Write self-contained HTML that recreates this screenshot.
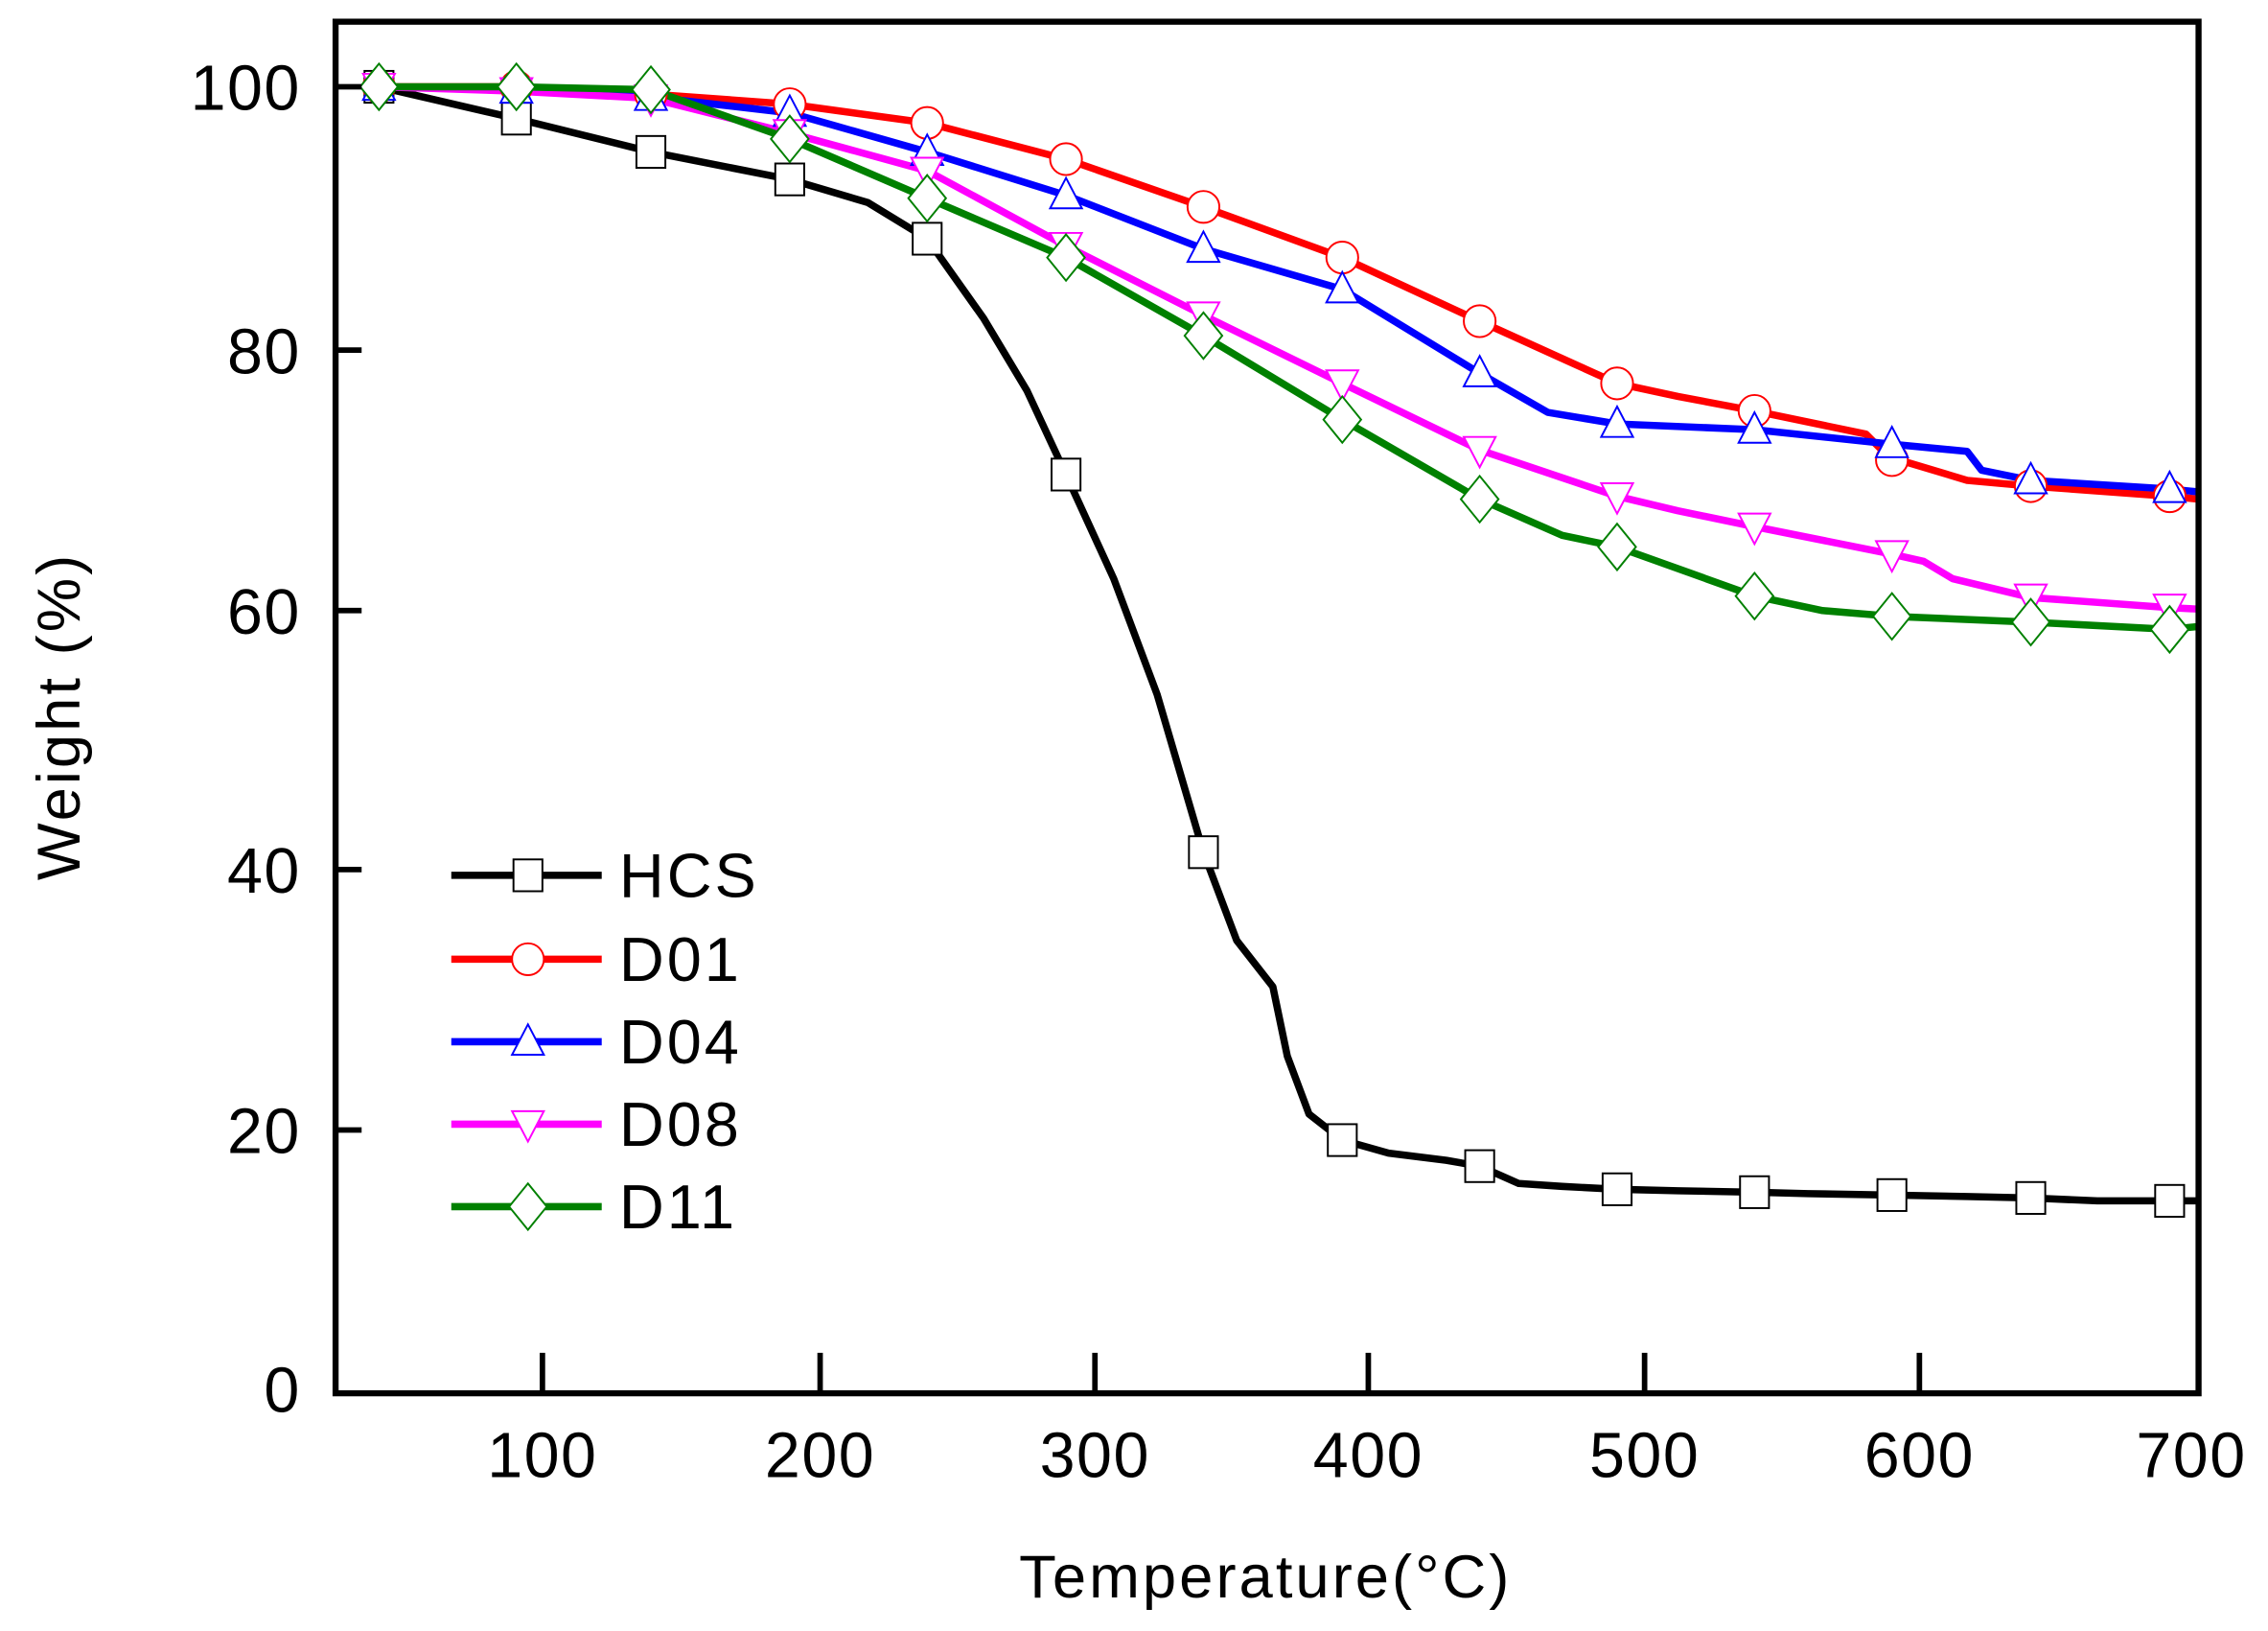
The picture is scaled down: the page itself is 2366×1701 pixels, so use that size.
<!DOCTYPE html>
<html><head><meta charset="utf-8"><style>html,body{margin:0;padding:0;background:#fff}svg{display:block}text{font-family:"Liberation Sans",Arial,sans-serif;fill:#000}</style></head>
<body>
<svg width="2366" height="1701" viewBox="0 0 1568 1127.3" xmlns="http://www.w3.org/2000/svg">
<defs>
<rect id="sq" x="-10" y="-11" width="20" height="22" fill="#fff" stroke="#000" stroke-width="1.3"/>
<circle id="ci" r="11" fill="#fff" stroke="#f00" stroke-width="1.3"/>
<path id="tu" d="M0,-12 L11,9 L-11,9 Z" fill="#fff" stroke="#00f" stroke-width="1.3"/>
<path id="td" d="M0,12 L11,-9 L-11,-9 Z" fill="#fff" stroke="#f0f" stroke-width="1.3"/>
<path id="di" d="M0,-16 L13,0 L0,16 L-13,0 Z" fill="#fff" stroke="#008000" stroke-width="1.3"/>
</defs>
<g fill="none" stroke-width="5" stroke-linejoin="round">
<polyline stroke="#000" points="262,60 357,82 450,105 546,124 600,140 641,165 680,220 710,270 737,328 770,400 800,480 832,589 855,650 880,682 890,730 905,770 928,788 960,797 1000,802 1023,806 1050,818 1080,820 1118,822 1160,823 1213,824 1250,825 1308,826 1360,827 1404,828 1450,830 1500,830 1520,830"/>
<polyline stroke="#f00" points="262,60 357,60 450,65 546,72 641,85 737,110 832,143 928,178 1023,222 1118,265 1160,274 1213,284 1290,300 1308,318 1320,320 1360,332 1404,336 1500,343 1520,345"/>
<polyline stroke="#00f" points="262,60 357,62 450,67 546,78 641,105 737,135 832,172 928,200 1023,258 1070,285 1118,293 1213,297 1308,307 1360,312 1370,325 1404,332 1500,338 1520,340"/>
<polyline stroke="#f0f" points="262,60 357,63 450,68 546,92 641,118 737,170 832,218 928,265 1023,311 1118,343 1160,353 1213,364 1308,383 1330,388 1350,400 1404,413 1500,420 1520,421"/>
<polyline stroke="#008000" points="262,60 357,60 450,62 546,96 641,137 737,178 832,232 928,290 1023,345 1080,370 1118,378 1213,412 1260,422 1308,426 1404,430 1500,435 1520,433"/>
</g>
<g>
<use href="#sq" x="262" y="60"/><use href="#sq" x="357" y="82"/><use href="#sq" x="450" y="105"/><use href="#sq" x="546" y="124"/><use href="#sq" x="641" y="165"/><use href="#sq" x="737" y="328"/><use href="#sq" x="832" y="589"/><use href="#sq" x="928" y="788"/><use href="#sq" x="1023" y="806"/><use href="#sq" x="1118" y="822"/><use href="#sq" x="1213" y="824"/><use href="#sq" x="1308" y="826"/><use href="#sq" x="1404" y="828"/><use href="#sq" x="1500" y="830"/>
<use href="#ci" x="262" y="60"/><use href="#ci" x="357" y="60"/><use href="#ci" x="450" y="65"/><use href="#ci" x="546" y="72"/><use href="#ci" x="641" y="85"/><use href="#ci" x="737" y="110"/><use href="#ci" x="832" y="143"/><use href="#ci" x="928" y="178"/><use href="#ci" x="1023" y="222"/><use href="#ci" x="1118" y="265"/><use href="#ci" x="1213" y="284"/><use href="#ci" x="1308" y="318"/><use href="#ci" x="1404" y="336"/><use href="#ci" x="1500" y="343"/>
<use href="#tu" x="262" y="60"/><use href="#tu" x="357" y="62"/><use href="#tu" x="450" y="67"/><use href="#tu" x="546" y="78"/><use href="#tu" x="641" y="105"/><use href="#tu" x="737" y="135"/><use href="#tu" x="832" y="172"/><use href="#tu" x="928" y="200"/><use href="#tu" x="1023" y="258"/><use href="#tu" x="1118" y="293"/><use href="#tu" x="1213" y="297"/><use href="#tu" x="1308" y="307"/><use href="#tu" x="1404" y="332"/><use href="#tu" x="1500" y="338"/>
<use href="#td" x="262" y="60"/><use href="#td" x="357" y="63"/><use href="#td" x="450" y="68"/><use href="#td" x="546" y="92"/><use href="#td" x="641" y="118"/><use href="#td" x="737" y="170"/><use href="#td" x="832" y="218"/><use href="#td" x="928" y="265"/><use href="#td" x="1023" y="311"/><use href="#td" x="1118" y="343"/><use href="#td" x="1213" y="364"/><use href="#td" x="1308" y="383"/><use href="#td" x="1404" y="413"/><use href="#td" x="1500" y="420"/>
<use href="#di" x="262" y="60"/><use href="#di" x="357" y="60"/><use href="#di" x="450" y="62"/><use href="#di" x="546" y="96"/><use href="#di" x="641" y="137"/><use href="#di" x="737" y="178"/><use href="#di" x="832" y="232"/><use href="#di" x="928" y="290"/><use href="#di" x="1023" y="345"/><use href="#di" x="1118" y="378"/><use href="#di" x="1213" y="412"/><use href="#di" x="1308" y="426"/><use href="#di" x="1404" y="430"/><use href="#di" x="1500" y="435"/>
</g>
<rect x="232" y="15" width="1288" height="948" fill="none" stroke="#000" stroke-width="4.2"/>
<g stroke="#000" stroke-width="3.8">
<line x1="232" y1="60" x2="250" y2="60"/><line x1="232" y1="242" x2="250" y2="242"/><line x1="232" y1="422" x2="250" y2="422"/><line x1="232" y1="601" x2="250" y2="601"/><line x1="232" y1="781" x2="250" y2="781"/>
<line x1="375" y1="963" x2="375" y2="935"/><line x1="567" y1="963" x2="567" y2="935"/><line x1="757" y1="963" x2="757" y2="935"/><line x1="946" y1="963" x2="946" y2="935"/><line x1="1137" y1="963" x2="1137" y2="935"/><line x1="1327" y1="963" x2="1327" y2="935"/>
</g>
<g font-size="44" text-anchor="end" letter-spacing="1">
<text x="208" y="76">100</text><text x="208" y="258">80</text><text x="208" y="438">60</text><text x="208" y="617">40</text><text x="208" y="797">20</text><text x="208" y="976">0</text>
</g>
<g font-size="44" text-anchor="middle" letter-spacing="1">
<text x="375" y="1021">100</text><text x="567" y="1021">200</text><text x="757" y="1021">300</text><text x="946" y="1021">400</text><text x="1137" y="1021">500</text><text x="1327" y="1021">600</text><text x="1515" y="1021">700</text>
</g>
<text x="875" y="1104" font-size="42" text-anchor="middle" letter-spacing="2">Temperature(°C)</text>
<text transform="translate(55,495) rotate(-90)" font-size="42" text-anchor="middle" letter-spacing="2">Weight (%)</text>
<g stroke-width="5">
<line x1="312" y1="605" x2="416" y2="605" stroke="#000"/><use href="#sq" x="365" y="605"/>
<line x1="312" y1="663" x2="416" y2="663" stroke="#f00"/><use href="#ci" x="365" y="663"/>
<line x1="312" y1="720" x2="416" y2="720" stroke="#00f"/><use href="#tu" x="365" y="720"/>
<line x1="312" y1="777" x2="416" y2="777" stroke="#f0f"/><use href="#td" x="365" y="777"/>
<line x1="312" y1="834" x2="416" y2="834" stroke="#008000"/><use href="#di" x="365" y="834"/>
</g>
<g font-size="43" letter-spacing="2">
<text x="428" y="620">HCS</text><text x="428" y="678">D01</text><text x="428" y="735">D04</text><text x="428" y="792">D08</text><text x="428" y="849">D11</text>
</g>
</svg>
</body></html>
